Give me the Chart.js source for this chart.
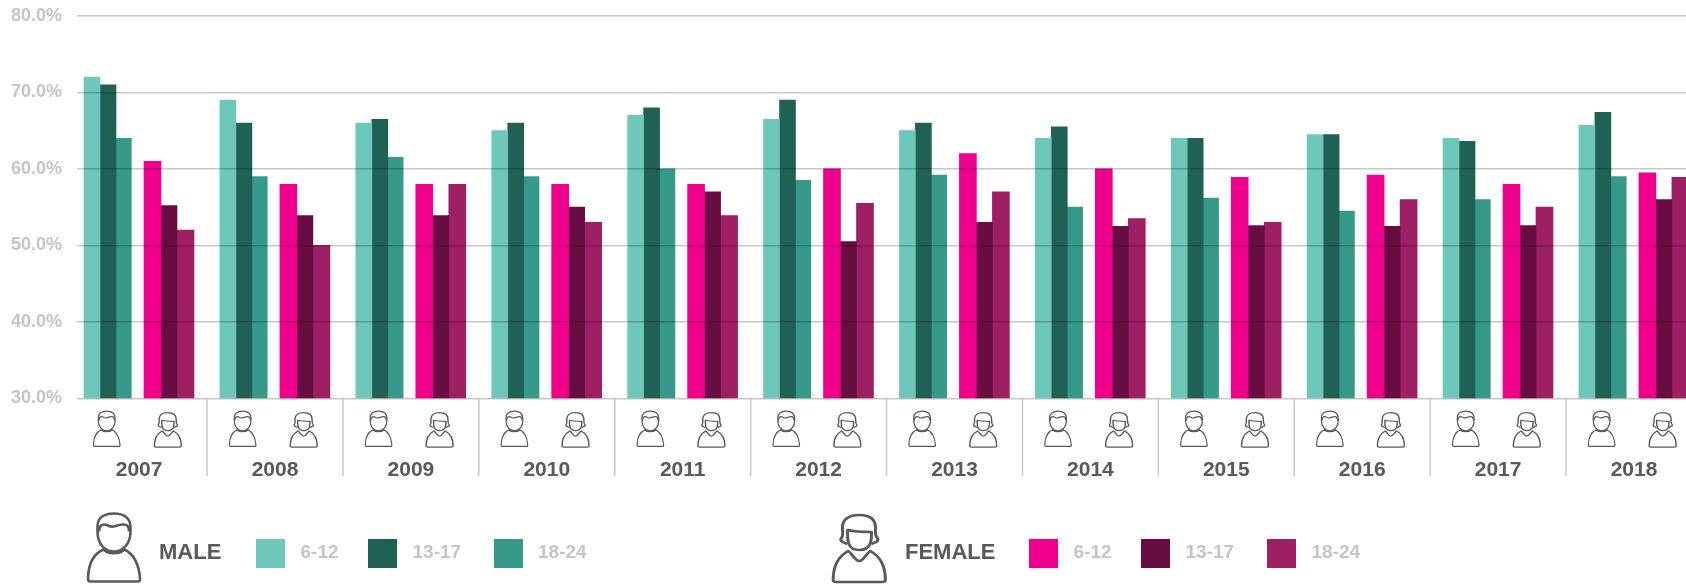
<!DOCTYPE html>
<html>
<head>
<meta charset="utf-8">
<title>Male and female by age group, 2007-2018</title>
<script src="https://cdn.jsdelivr.net/npm/chart.js@4"></script>
<style>
  html, body { margin: 0; padding: 0; background: #fff; overflow: hidden; }
  #wrap { position: relative; width: 1686px; height: 584px; overflow: hidden; font-family: "Liberation Sans", Arial, sans-serif; font-weight: bold; }
  #chart { position: absolute; left: 0; top: 0; }
  .swatch { position: absolute; top: 539px; width: 29px; height: 29px; }
  .txt { position: absolute; top: 538px; line-height: 28px; white-space: nowrap; }
  .age { color: #c4c5c6; font-size: 19px; }
  .sex { color: #58595b; font-size: 22px; }
</style>
</head>
<body>
<div id="wrap"><canvas id="chart" width="1720" height="584"></canvas></div>
<script>
document.addEventListener('DOMContentLoaded', function () {

// Data
const years = [2007, 2008, 2009, 2010, 2011, 2012, 2013, 2014, 2015, 2016, 2017, 2018];
const yTicks = [30, 40, 50, 60, 70, 80];
const ageGroups = ['6-12', '13-17', '18-24'];
const male612 = [72, 69, 66, 65, 67, 66.5, 65, 64, 64, 64.5, 64, 65.7];
const male1317 = [71, 66, 66.5, 66, 68, 69, 66, 65.5, 64, 64.5, 63.6, 67.4];
const male1824 = [64, 59, 61.5, 59, 60, 58.5, 59.2, 55, 56.2, 54.5, 56, 59];
const female612 = [61, 58, 58, 58, 58, 60, 62, 60, 58.9, 59.2, 58, 59.5];
const female1317 = [55.2, 53.9, 53.9, 55, 57, 50.5, 53, 52.5, 52.6, 52.5, 52.6, 56];
const female1824 = [52, 50, 58, 53, 53.9, 55.5, 57, 53.5, 53, 56, 55, 58.9];
const maleColors = ['#6ec8ba', '#206156', '#379a89'];
const femaleColors = ['#ee008c', '#680d41', '#9e1f63'];

// Layout
const plotLeft = 77, plotTop = 16, plotBottom = 398.3, canvasW = 1720, canvasH = 584;
const period = 135.9;      // px between two years
const firstCenter = 139.1; // px of the middle of the 2007 block
const xMin = years[0] + (plotLeft - firstCenter) / period;
const xMax = xMin + (canvasW - plotLeft) / period;

// a bar's place inside its year block, given in px from the block's middle
function makeSet(label, values, color, shift, thickness) {
    return {
        label: label,
        data: values.map(function (v, i) { return { x: years[i] + shift / period, y: v }; }),
        backgroundColor: color,
        grouped: false,
        barThickness: thickness,
        borderWidth: 0
    };
}

// Person icons, drawn in their own units
const malePaths = [
    'M11 14C11 5 18 1 27.3 1C37 1 44 5 44 15L44 19C44 31 37 39 27.3 39C18 39 11 31 11 19Z',
    'M12.5 19C12.5 14 15 12 18 12C21 12 23 15 27 14C31 13 33 12 37 12C41 12 42.5 14 42.5 19',
    'M17 37C10 40 2 47 1.5 66C1.5 68 2 69 4 69L51 69C53 69 54 68 53.5 66C52 47 44 40 38 37C34 42 21 42 17 37Z'
].map(function (d) { return new Path2D(d); });
const femalePaths = [
    'M13 30C9 28 6.5 27 8 24C10 22 9 18 9 14C9 5 15 1 23.5 1C32 1 37.5 5 37.5 14C37.5 18 37 22 39 24C41 27 38 28 34 30',
    'M13.5 16C13.5 24 12 36 23.5 36C35 36 34 24 34 18C27 18 20 18 13.5 16Z',
    'M14 37C6 42 1 52 1 66C1 67.5 2 68 4 68L43 68C45 68 46 67.5 46 66C46 52 41 42 33 37C30 39 27 47 23.5 47C20 47 17 39 14 37Z'
].map(function (d) { return new Path2D(d); });

function drawIcon(ctx, paths, x, y, sx, sy, lw) {
    ctx.save();
    ctx.translate(x, y);
    ctx.scale(sx, sy);
    ctx.strokeStyle = '#58595b';
    ctx.lineWidth = lw;
    ctx.lineJoin = 'round';
    paths.forEach(function (p) { ctx.stroke(p); });
    ctx.restore();
}

// Separators between years and the icons under the bars
const iconsPlugin = {
    id: 'icons',
    afterDraw: function (chart) {
        const ctx = chart.ctx;
        const xs = chart.scales.x;
        years.forEach(function (y) {
            const mid = xs.getPixelForValue(y);
            const sepX = xs.getPixelForValue(y + 0.5);
            ctx.strokeStyle = '#c8c8c8';
            ctx.lineWidth = 1.5;
            ctx.beginPath();
            ctx.moveTo(sepX, plotBottom);
            ctx.lineTo(sepX, 476);
            ctx.stroke();
            drawIcon(ctx, malePaths, mid - 46.4, 410.5, 0.51, 0.52, 2.4);
            drawIcon(ctx, femalePaths, mid + 14.6, 412, 0.6, 0.515, 2.4);
        });
        // legend icons
        drawIcon(ctx, malePaths, 86.5, 512.5, 1, 1, 2.6);
        drawIcon(ctx, femalePaths, 832, 514, 1.16, 1, 2.6);
    }
};

const ctx = document.getElementById('chart').getContext('2d');
const chart = new Chart(ctx, {
    type: 'bar',
    data: {
        datasets: [
            makeSet('Male 6-12', male612, maleColors[0], -47.1, 16),
            makeSet('Male 13-17', male1317, maleColors[1], -31.1, 16),
            makeSet('Male 18-24', male1824, maleColors[2], -15.6, 15.7),
            makeSet('Female 6-12', female612, femaleColors[0], 13.4, 17),
            makeSet('Female 13-17', female1317, femaleColors[1], 29.4, 17),
            makeSet('Female 18-24', female1824, femaleColors[2], 46.4, 17)
        ]
    },
    options: {
        responsive: false,
        animation: false,
        layout: { padding: { top: plotTop, left: 0, right: 0, bottom: 0 } },
        plugins: { legend: { display: false }, tooltip: { enabled: false } },
        scales: {
            x: {
                type: 'linear',
                bounds: 'data',
                offset: false,
                min: xMin,
                max: xMax,
                grid: { display: false },
                border: { display: false },
                afterBuildTicks: function (axis) {
                    axis.ticks = years.map(function (y) { return { value: y }; });
                },
                afterFit: function (axis) { axis.height = canvasH - plotBottom; },
                ticks: {
                    padding: 51,
                    maxRotation: 0,
                    autoSkip: false,
                    color: '#58595b',
                    font: { family: '"Liberation Sans"', size: 21, weight: 'bold' },
                    callback: function (v) { return String(v); }
                }
            },
            y: {
                min: yTicks[0],
                max: yTicks[yTicks.length - 1],
                border: { display: false },
                grid: { color: 'rgba(0,0,0,0.22)', lineWidth: 1.5, drawTicks: false, z: 1 },
                afterBuildTicks: function (axis) {
                    axis.ticks = yTicks.map(function (v) { return { value: v }; });
                },
                afterFit: function (axis) {
                    axis.width = plotLeft;
                    axis.paddingTop = 0;
                    axis.paddingBottom = 0;
                },
                ticks: {
                    padding: 15,
                    color: '#c4c5c6',
                    font: { family: '"Liberation Sans"', size: 18, weight: 'bold' },
                    callback: function (v) { return v.toFixed(1) + '%'; }
                }
            }
        }
    },
    plugins: [iconsPlugin]
});

// Legend under the chart
const wrap = document.getElementById('wrap');
function addText(cls, text, x) {
    const el = document.createElement('div');
    el.className = 'txt ' + cls;
    el.textContent = text;
    el.style.left = x + 'px';
    wrap.appendChild(el);
}
function addSwatch(color, x) {
    const el = document.createElement('div');
    el.className = 'swatch';
    el.style.left = x + 'px';
    el.style.background = color;
    wrap.appendChild(el);
}
addText('sex', 'MALE', 159);
addText('sex', 'FEMALE', 905);
[256, 368, 493.5].forEach(function (x, i) {
    addSwatch(maleColors[i], x);
    addText('age', ageGroups[i], x + 44.5);
});
[1029, 1141, 1267].forEach(function (x, i) {
    addSwatch(femaleColors[i], x);
    addText('age', ageGroups[i], x + 44.5);
});

});
</script>
</body>
</html>
